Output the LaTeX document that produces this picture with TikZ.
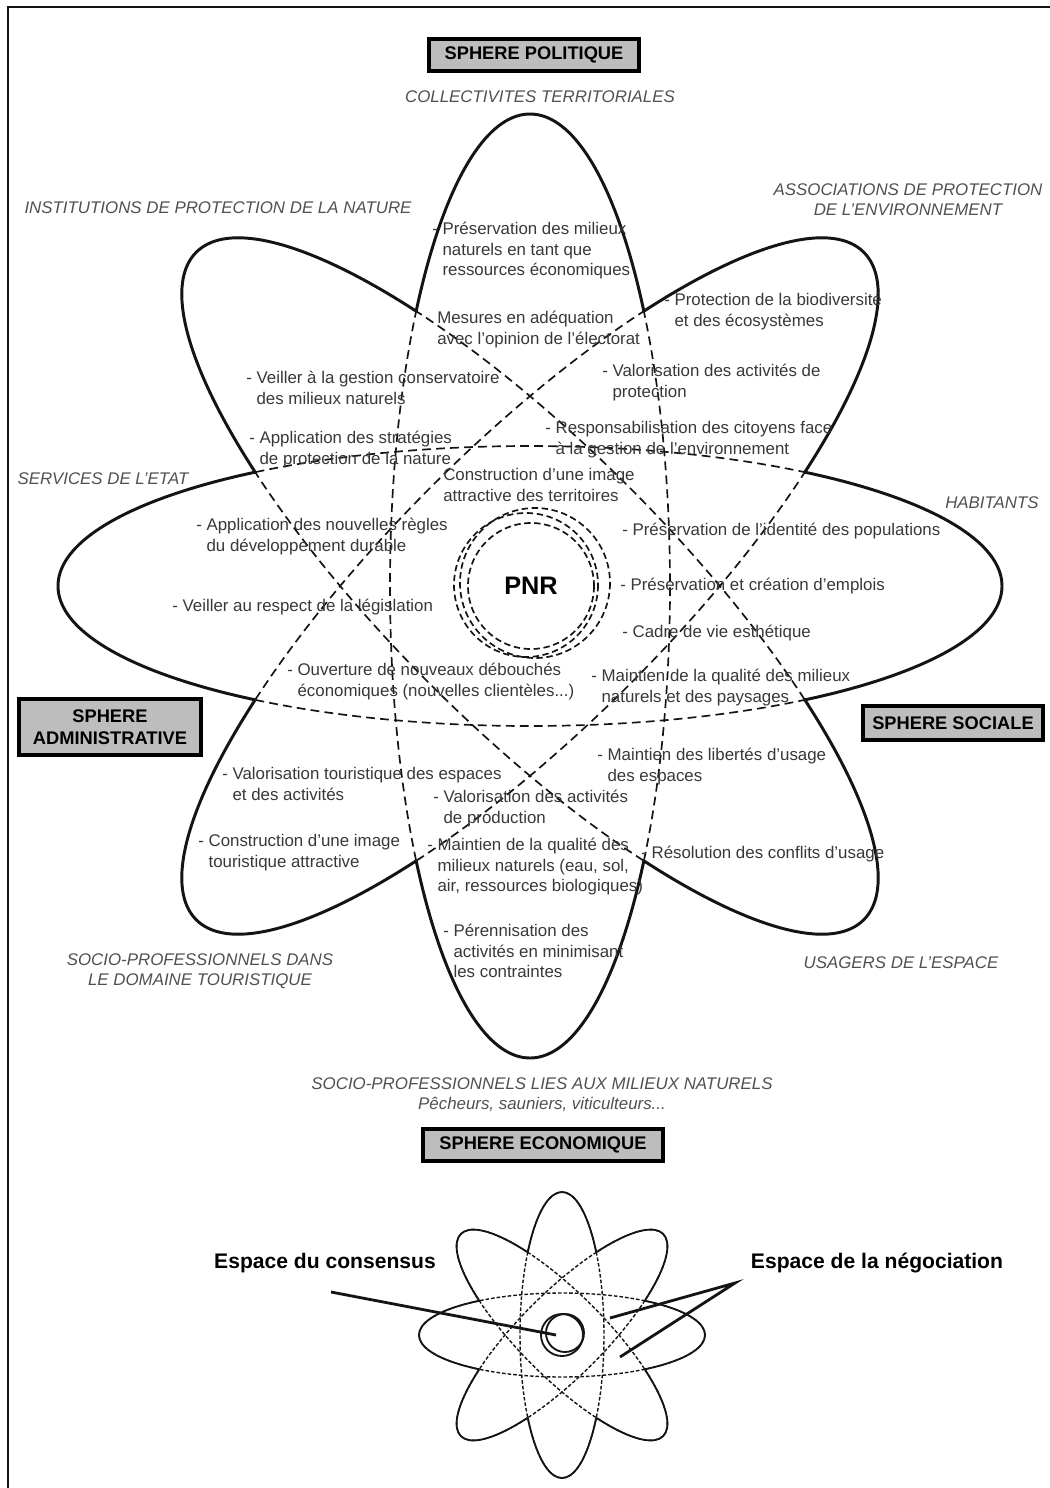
\documentclass[tikz,border=0pt]{standalone}
\usepackage{fontspec}
\setmainfont{Liberation Sans}
\usetikzlibrary{positioning}

\definecolor{boxgrey}{HTML}{BDBDBD}
\definecolor{txtgrey}{HTML}{383838}
\definecolor{lblgrey}{HTML}{505050}
\definecolor{inkline}{HTML}{141414}

% hanging "- " item, following lines aligned on the text
\newcommand{\dashitem}[1]{-\ \begin{tabular}[t]{@{}l@{}}#1\end{tabular}}
\newcommand{\plainitem}[1]{\begin{tabular}[t]{@{}l@{}}#1\end{tabular}}

% clip away the inside of one ellipse (cx, cy, angle, a, b)
\newcommand{\cutpetal}[5]{%
  \pgfmathsetmacro\cutax{#4*cos(#3)}\pgfmathsetmacro\cutay{-#4*sin(#3)}%
  \pgfmathsetmacro\cutbx{#5*sin(#3)}\pgfmathsetmacro\cutby{#5*cos(#3)}%
  \pgfpathmoveto{\pgfpointxy{-4000}{-4000}}%
  \pgfpathlineto{\pgfpointxy{-4000}{5000}}%
  \pgfpathlineto{\pgfpointxy{5000}{5000}}%
  \pgfpathlineto{\pgfpointxy{5000}{-4000}}%
  \pgfpathclose
  \pgfpathellipse{\pgfpointxy{#1}{#2}}{\pgfpointxy{\cutax}{\cutay}}{\pgfpointxy{\cutbx}{\cutby}}%
  \pgfusepath{clip}}

% four crossed ellipses: solid outside, dashed where they overlap
\newcommand{\drawflower}[6]{%
  \foreach \t in {0,45,90,135}
    \draw[#6, rotate around={\t:(#1,#2)}] (#1,#2) ellipse [x radius=#3, y radius=#4];
  \foreach \t in {0,45,90,135} {
    \begin{scope}
      \foreach \u in {0,45,90,135} {%
        \ifnum\u=\t\relax\else\cutpetal{#1}{#2}{\u}{#3}{#4}\fi}
      \draw[#5, rotate around={\t:(#1,#2)}] (#1,#2) ellipse [x radius=#3, y radius=#4];
    \end{scope}}%
}

\tikzset{
  item/.style={anchor=west, inner sep=0pt, text=txtgrey, font=\fontsize{12}{14.6}\selectfont},
  actor/.style={inner sep=0pt, text=lblgrey, align=center, font=\itshape\fontsize{12}{14.4}\selectfont},
  sphere/.style={draw=black, line width=2.8pt, fill=boxgrey, align=center, inner sep=0pt,
    font=\bfseries\fontsize{13}{15.5}\selectfont},
  outline/.style={draw=inkline, line width=2.1pt},
  hidden/.style={draw=inkline, line width=1.2pt, dash pattern=on 2.2mm off 1.3mm},
  ring/.style={draw=inkline, line width=1.2pt, dash pattern=on 1.6mm off 0.9mm},
  smallout/.style={draw=inkline, line width=1.3pt},
  smallhid/.style={draw=inkline, line width=1pt, dash pattern=on 0.9mm off 0.5mm},
  espace/.style={inner sep=0pt, font=\bfseries\fontsize{15}{17}\selectfont},
  pointer/.style={draw=inkline, line width=2pt},
}

\begin{document}
\begin{tikzpicture}[x=0.025cm, y=-0.025cm]
    \useasboundingbox (0,0) rectangle (1050,1488);
    \draw[draw=inkline, line width=1.5pt] (8,1488) -- (8,7) -- (1050,7);

    % big diagram
    \drawflower{530}{586}{472}{140}{outline}{hidden}
    \node[font=\bfseries\fontsize{18}{20}\selectfont] (pnr) at (531,586) {PNR};
    \draw[ring] (pnr.center) circle [radius=63];
    \draw[ring] (526,585) circle [radius=72];
    \draw[ring] (535,583) circle [radius=75];

    % spheres
    \node[sphere, minimum width=5.25cm, minimum height=0.8cm] (politique) at (534,55) {SPHERE POLITIQUE};
    \node[sphere, minimum width=4.55cm, minimum height=1.4cm] (administrative) at (110,727) {SPHERE\\ADMINISTRATIVE};
    \node[sphere, minimum width=4.5cm, minimum height=0.85cm] (sociale) at (953,723) {SPHERE SOCIALE};
    \node[sphere, minimum width=6.0cm, minimum height=0.8cm] (economique) at (543,1145) {SPHERE ECONOMIQUE};

    % actors
    \node[actor] (collectivites) at (540,97) {COLLECTIVITES TERRITORIALES};
    \node[actor] (institutions) at (218,208) {INSTITUTIONS DE PROTECTION DE LA NATURE};
    \node[actor] (associations) at (908,200) {ASSOCIATIONS DE PROTECTION\\DE L'ENVIRONNEMENT};
    \node[actor] (services) at (103,479) {SERVICES DE L'ETAT};
    \node[actor] (habitants) at (992,503) {HABITANTS};
    \node[actor] (tourisme) at (200,971) {SOCIO-PROFESSIONNELS DANS\\LE DOMAINE TOURISTIQUE};
    \node[actor] (usagers) at (901,963) {USAGERS DE L'ESPACE};
    \node[actor] (milieux) at (542,1095) {SOCIO-PROFESSIONNELS LIES AUX MILIEUX NATURELS\\Pêcheurs, sauniers, viticulteurs...};

    % stakes
    \node[item] (ressources) at (432,251) {\dashitem{Préservation des milieux\\naturels en tant que\\ressources économiques}};
    \node[item] (electorat) at (437,330) {\plainitem{Mesures en adéquation\\avec l'opinion de l'électorat}};
    \node[item] (biodiversite) at (664,312) {\dashitem{Protection de la biodiversité\\et des écosystèmes}};
    \node[item] (protection) at (602,383) {\dashitem{Valorisation des activités de\\protection}};
    \node[item] (citoyens) at (545,440) {\dashitem{Responsabilisation des citoyens face\\à la gestion de l'environnement}};
    \node[item] (conservatoire) at (246,390) {\dashitem{Veiller à la gestion conservatoire\\des milieux naturels}};
    \node[item] (strategies) at (249,450) {\dashitem{Application des stratégies\\de protection de la nature}};
    \node[item] (territoires) at (443,487) {\plainitem{Construction d'une image\\attractive des territoires}};
    \node[item] (regles) at (196,537) {\dashitem{Application des nouvelles règles\\du développement durable}};
    \node[item] (legislation) at (172,607) {\dashitem{Veiller au respect de la législation}};
    \node[item] (identite) at (622,531) {\dashitem{Préservation de l'identité des populations}};
    \node[item] (emplois) at (620,586) {\dashitem{Préservation et création d'emplois}};
    \node[item] (cadre) at (622,633) {\dashitem{Cadre de vie esthétique}};
    \node[item] (paysages) at (591,688) {\dashitem{Maintien de la qualité des milieux\\naturels et des paysages}};
    \node[item] (debouches) at (287,682) {\dashitem{Ouverture de nouveaux débouchés\\économiques (nouvelles clientèles...)}};
    \node[item] (libertes) at (597,767) {\dashitem{Maintien des libertés d'usage\\des espaces}};
    \node[item] (espaces) at (222,786) {\dashitem{Valorisation touristique des espaces\\et des activités}};
    \node[item] (production) at (433,809) {\dashitem{Valorisation des activités\\de production}};
    \node[item] (image) at (198,853) {\dashitem{Construction d'une image\\touristique attractive}};
    \node[item] (qualite) at (427,867) {\dashitem{Maintien de la qualité des\\milieux naturels (eau, sol,\\air, ressources biologiques)}};
    \node[item] (conflits) at (641,854) {\dashitem{Résolution des conflits d'usage}};
    \node[item] (perennisation) at (443,953) {\dashitem{Pérennisation des\\activités en minimisant\\les contraintes}};

    % small diagram
    \drawflower{562}{1335}{143}{42}{smallout}{smallhid}
    \draw[smallout] (562,1335) circle [radius=21];
    \draw[smallout] (565,1333) circle [radius=19];
    \node[espace] (consensus) at (325,1263) {Espace du consensus};
    \node[espace] (negociation) at (877,1263) {Espace de la négociation};
    \coordinate (consfrom) at (331,1292);
    \coordinate (consto) at (556,1335);
    \coordinate (negfrom) at (735,1283);
    \coordinate (negtoA) at (610,1318);
    \coordinate (negtoB) at (620,1357);
    \draw[pointer] (consfrom) -- (consto);
    \draw[pointer] (negtoA) -- (negfrom) -- (negtoB);
\end{tikzpicture}
\end{document}
